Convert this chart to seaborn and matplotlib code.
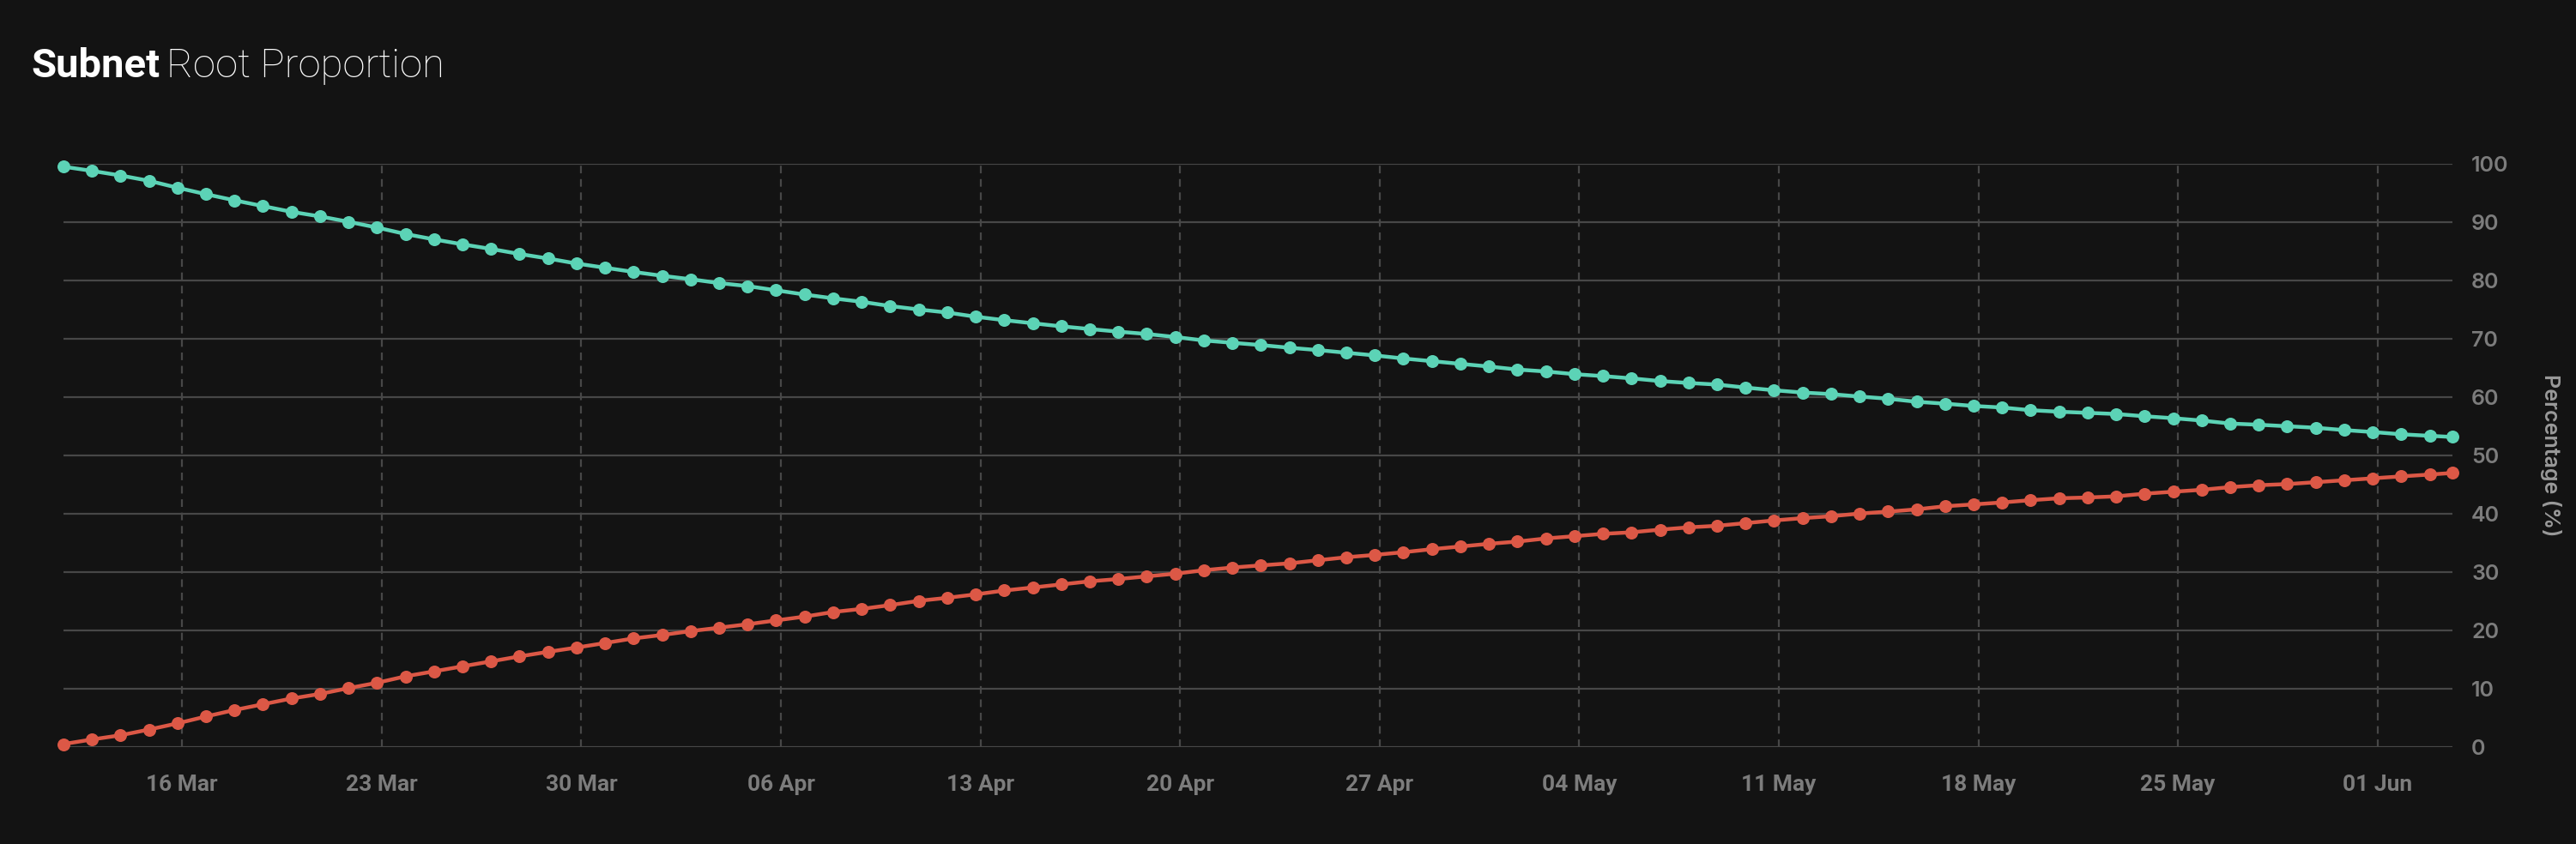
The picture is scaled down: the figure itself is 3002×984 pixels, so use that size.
import pandas as pd
import seaborn as sns
import matplotlib.pyplot as plt
import matplotlib.dates as mdates

# daily snapshots (taken ~20:00), last one is the partial current day
first_day = "2025-03-11 20:00"
n_daily = 84
last_stamp = "2025-06-03 15:00"

root_pct = [
    99.47, 98.75, 97.96, 97.05, 95.86, 94.75, 93.70, 92.71, 91.73, 90.94, 90.02,
    89.03, 87.92, 87.00, 86.15, 85.36, 84.50, 83.72, 82.86, 82.14, 81.42, 80.76,
    80.17, 79.51, 78.99, 78.27, 77.54, 76.89, 76.30, 75.57, 74.98, 74.46, 73.74,
    73.15, 72.62, 72.09, 71.63, 71.18, 70.78, 70.26, 69.67, 69.27, 68.88,
    68.42, 68.02, 67.56, 67.10, 66.58, 66.12, 65.66, 65.20, 64.68, 64.35, 63.89,
    63.56, 63.17, 62.71, 62.38, 62.11, 61.59, 61.13, 60.74, 60.47, 60.05,
    59.68, 59.16, 58.83, 58.44, 58.17, 57.71, 57.45, 57.26, 57.06, 56.67, 56.34,
    55.94, 55.42, 55.22, 54.96, 54.70, 54.30, 53.97, 53.58, 53.32, 53.12,
]
alpha_pct = [
    0.46, 1.25, 1.97, 2.95, 4.01, 5.19, 6.30, 7.29, 8.27, 9.06, 10.05,
    10.97, 12.08, 12.93, 13.79, 14.64, 15.50, 16.28, 17.01, 17.79, 18.58, 19.17,
    19.83, 20.42, 21.01, 21.67, 22.32, 23.11, 23.64, 24.29, 25.02, 25.54, 26.13,
    26.79, 27.31, 27.84, 28.37, 28.76, 29.22, 29.68, 30.27, 30.73, 31.10,
    31.45, 31.98, 32.50, 32.90, 33.36, 33.88, 34.34, 34.80, 35.19, 35.72, 36.11,
    36.51, 36.77, 37.23, 37.62, 37.89, 38.35, 38.81, 39.20, 39.53, 39.99,
    40.32, 40.71, 41.24, 41.56, 41.89, 42.28, 42.61, 42.74, 42.94, 43.40, 43.73,
    44.06, 44.52, 44.85, 45.04, 45.37, 45.70, 46.03, 46.36, 46.68, 46.95,
]
y_ticks = [0, 10, 20, 30, 40, 50, 60, 70, 80, 90, 100]

dates = list(pd.date_range(first_day, periods=n_daily, freq="D")) + [pd.Timestamp(last_stamp)]
df = pd.DataFrame({"date": dates + dates,
                   "pct": root_pct + alpha_pct,
                   "series": ["root"] * len(dates) + ["alpha"] * len(dates)})

bg = "#131313"
grid_c = "#474747"
tick_c = "#7c7c7c"
palette = {"root": "#5cd3b6", "alpha": "#dc5846"}

sns.set_theme(style="dark")
plt.rcParams["font.family"] = ["Inter", "DejaVu Sans"]

fig = plt.figure(figsize=(15.01, 4.92), dpi=200, facecolor=bg)
ax = fig.add_axes([0.0246, 0.1152, 0.9274, 0.691], facecolor=bg)

sns.lineplot(data=df, x="date", y="pct", hue="series", palette=palette,
             marker="o", markersize=5.4, markeredgewidth=0, linewidth=1.6,
             legend=False, ax=ax, clip_on=False, zorder=3)

ax.set_xlim(dates[0], dates[-1])
ax.set_ylim(0, 100)
ax.set_yticks(y_ticks)

ax.xaxis.set_major_locator(mdates.WeekdayLocator(byweekday=mdates.SU))
ax.xaxis.set_major_formatter(mdates.DateFormatter("%d %b"))

ax.yaxis.tick_right()
ax.yaxis.set_label_position("right")
ax.grid(axis="y", color=grid_c, linewidth=0.8, linestyle="-")
ax.grid(axis="x", color=grid_c, linewidth=0.8, linestyle=(0, (4, 3)))
for s in ax.spines.values():
    s.set_visible(False)

ax.tick_params(axis="x", colors=grid_c, length=3.5, width=0.8, pad=8,
               labelcolor=tick_c, labelsize=9.5)
ax.tick_params(axis="y", length=0, pad=8, labelcolor=tick_c, labelsize=9)
for lab in ax.get_xticklabels():
    lab.set_fontfamily(["Roboto", "DejaVu Sans"])
    lab.set_fontweight("bold")
for lab in ax.get_yticklabels():
    lab.set_fontweight("semibold")

ax.set_xlabel("")
ax.set_ylabel("Percentage (%)", color="#9a9a9a", fontsize=9, rotation=270,
              labelpad=22, fontweight="semibold")

# title: bold first word, light rest
title_font = ["Roboto", "DejaVu Sans"]
t1 = fig.text(36 / 3002, 1 - 90 / 984, "Subnet", color="white", fontsize=17,
              fontweight="bold", family=title_font, va="baseline", ha="left")
r = fig.canvas.get_renderer()
bb = t1.get_window_extent(renderer=r)
fig.text((bb.x1 + 8) / fig.bbox.width, 1 - 90 / 984, "Root Proportion", color="white",
         fontsize=17, fontweight="light", family=title_font, va="baseline", ha="left")

fig.savefig("out.png", dpi=200, facecolor=bg)
